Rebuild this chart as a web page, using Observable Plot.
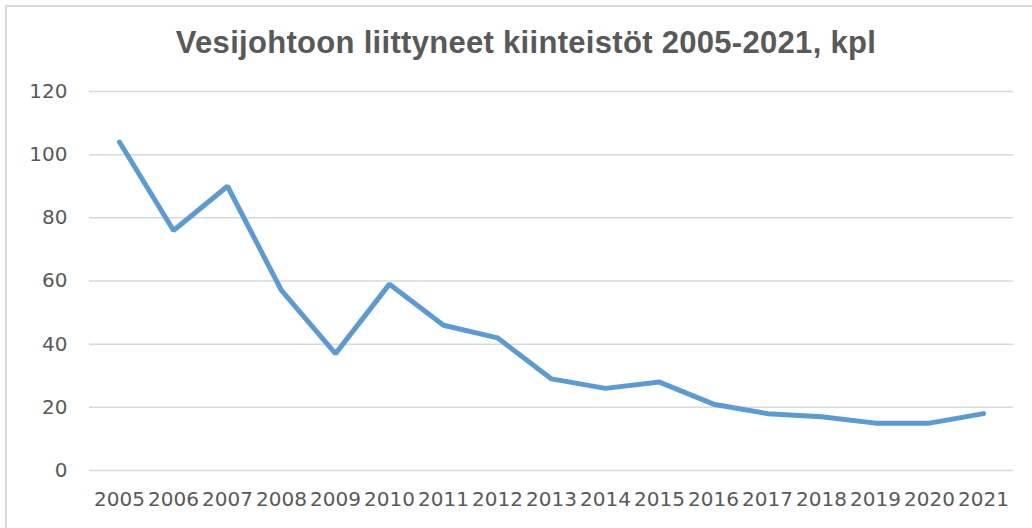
<!DOCTYPE html>
<html>
<head>
<meta charset="utf-8">
<script src="https://cdn.jsdelivr.net/npm/d3@7"></script>
<script src="https://cdn.jsdelivr.net/npm/@observablehq/plot@0.6"></script>
<style>
  html, body { margin: 0; padding: 0; background: #fff; overflow: hidden; width: 1032px; height: 528px; }
  #wrap { position: relative; width: 1032px; height: 528px; }
  #frame { position: absolute; left: 5px; top: 5px; width: 1200px; height: 700px; border: 2px solid #d9d9d9; box-sizing: border-box; }
  #title { position: absolute; left: 0; width: 1052px; top: 27px; text-align: center; font-family: "Liberation Sans", Arial, sans-serif; font-weight: bold; font-size: 31px; line-height: 31px; letter-spacing: 0.3px; color: #595959; white-space: nowrap; }
  #chart { position: absolute; left: 0; top: 70px; }
</style>
</head>
<body>
<div id="wrap">
  <div id="frame"></div>
  <div id="title">Vesijohtoon liittyneet kiinteistöt 2005-2021, kpl</div>
  <div id="chart"></div>
</div>
<script>
const years = ["2005","2006","2007","2008","2009","2010","2011","2012","2013","2014","2015","2016","2017","2018","2019","2020","2021"];
const values = [104, 76, 90, 57, 37, 59, 46, 42, 29, 26, 28, 21, 18, 17, 15, 15, 18];
const yTicks = [0, 20, 40, 60, 80, 100, 120];

const data = years.map((y, i) => ({year: y, value: values[i]}));

const chart = Plot.plot({
  width: 1032,
  height: 458,
  marginLeft: 89,
  marginRight: 19,
  marginTop: 21,
  marginBottom: 58,
  style: { fontFamily: "DejaVu Sans, sans-serif", fontSize: "20px", color: "#595959", background: "transparent" },
  x: { type: "point", domain: years, padding: 0.5, align: 0.5, label: null },
  y: { domain: [0, 120], label: null },
  marks: [
    Plot.ruleY(yTicks, { stroke: "#d9d9d9", strokeWidth: 1.5, strokeOpacity: 1 }),
    Plot.axisY(yTicks, { tickSize: 0, tickPadding: 22, label: null, fill: "#595959", fontSize: 20 }),
    Plot.axisX(years, { tickSize: 0, tickPadding: 21, label: null, fill: "#595959", fontSize: 20 }),
    Plot.line(data, { x: "year", y: "value", stroke: "#5b9bd5", strokeWidth: 5, strokeLinejoin: "miter", strokeLinecap: "round" })
  ]
});
document.getElementById("chart").appendChild(chart);
</script>
</body>
</html>
